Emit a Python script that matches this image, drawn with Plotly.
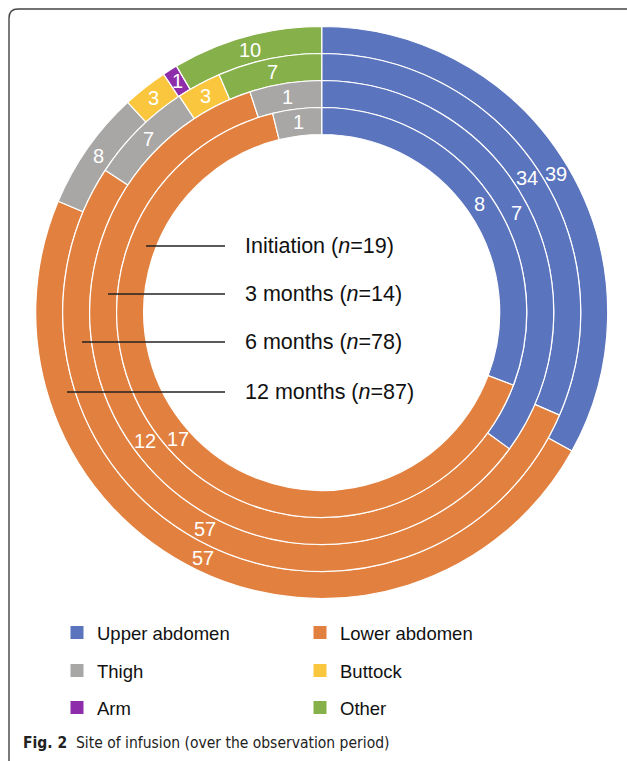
import math
import plotly.graph_objects as go

W, H = 627, 761

# ---- data ----
sites = ["Upper abdomen", "Lower abdomen", "Thigh", "Buttock", "Arm", "Other"]
site_colors = ["#5B74BE", "#E2813F", "#A8A7A6", "#FAC63E", "#8E2DAA", "#86B04A"]
periods = ["Initiation", "3 months", "6 months", "12 months"]
period_n = [19, 14, 78, 87]
initiation = [8, 17, 1, 0, 0, 0]
months_3 = [7, 12, 1, 0, 0, 0]
months_6 = [34, 57, 7, 3, 0, 7]
months_12 = [39, 57, 8, 3, 1, 10]
ring_values = [initiation, months_3, months_6, months_12]

# ---- geometry (pixels) ----
cx, cy = 321.7, 312.5
ring_outer = [205, 232, 259, 286]
ring_w = 27


def px(x):
    return x / W


def py(y):
    return 1 - y / H


fig = go.Figure()
annotations = []

# outer ring first
for i in reversed(range(4)):
    vals = ring_values[i]
    labs = [s for s, v in zip(sites, vals) if v > 0]
    cols = [c for c, v in zip(site_colors, vals) if v > 0]
    vv = [v for v in vals if v > 0]
    R = ring_outer[i]
    fig.add_trace(go.Pie(
        labels=labs, values=vv, sort=False, direction="clockwise", rotation=0,
        hole=(R - ring_w) / R,
        domain=dict(x=[px(cx - R), px(cx + R)], y=[py(cy + R), py(cy - R)]),
        marker=dict(colors=cols, line=dict(color="white", width=1.2)),
        textinfo="none",
        showlegend=False, hoverinfo="label+value", name=periods[i],
    ))
    # value labels at the middle of each slice
    total = sum(vv)
    rm = R - ring_w / 2
    cum = 0
    for v in vv:
        th = 2 * math.pi * (cum + v / 2) / total
        cum += v
        annotations.append(dict(
            xref="paper", yref="paper",
            x=px(cx + rm * math.sin(th)), y=py(cy - rm * math.cos(th)),
            xanchor="center", yanchor="middle", showarrow=False, text=str(v),
            font=dict(size=20, color="white", family="Liberation Sans, Arial, sans-serif")))

# legend entries (three rows of two)
legend_rows = ["legend", "legend2", "legend3"]
for k, (s, c) in enumerate(zip(sites, site_colors)):
    fig.add_trace(go.Scatter(
        x=[None], y=[None], mode="markers", name=s,
        marker=dict(symbol="square", size=13, color=c),
        legend=legend_rows[k // 2], showlegend=True,
    ))

row_y = [633, 671, 708]
leg_common = dict(orientation="h", x=px(57), xanchor="left", yanchor="middle",
                  entrywidth=198, entrywidthmode="pixels",
                  font=dict(size=18.5, color="#111", family="Liberation Sans, Arial, sans-serif"),
                  bgcolor="rgba(0,0,0,0)", borderwidth=0)

# leader lines and period labels
line_left = [146, 108, 82, 67]
line_y = [246, 294, 342, 392]
shapes = []
for i in range(4):
    shapes.append(dict(type="line", xref="paper", yref="paper",
                       x0=px(line_left[i]), x1=px(225), y0=py(line_y[i]), y1=py(line_y[i]),
                       line=dict(color="#222", width=1.3)))
    annotations.append(dict(xref="paper", yref="paper", x=px(243), y=py(line_y[i]),
                            xanchor="left", yanchor="middle", showarrow=False,
                            text=f"{periods[i]} (<i>n</i>={period_n[i]})",
                            font=dict(size=21.5, color="#111", family="Liberation Sans, Arial, sans-serif")))

# caption
annotations.append(dict(xref="paper", yref="paper", x=px(21), y=py(743),
                        xanchor="left", yanchor="middle", showarrow=False,
                        text="<b>Fig. 2</b>  Site of infusion (over the observation period)",
                        font=dict(size=15.5, color="#222",
                                  family="Liberation Sans Narrow, DejaVu Sans Condensed, Open Sans, sans-serif")))

# frame
r = 9
frame_path = (f"M {px(9)},{py(775)} L {px(9)},{py(9 + r)} "
              f"Q {px(9)},{py(9)} {px(9 + r)},{py(9)} L {px(640)},{py(9)}")
shapes.append(dict(type="path", xref="paper", yref="paper", path=frame_path,
                   line=dict(color="#444", width=1.4)))

fig.update_layout(
    width=W, height=H, margin=dict(l=0, r=0, t=0, b=0),
    paper_bgcolor="white", plot_bgcolor="white",
    xaxis=dict(visible=False), yaxis=dict(visible=False),
    legend=dict(y=py(row_y[0]), **leg_common),
    legend2=dict(y=py(row_y[1]), **leg_common),
    legend3=dict(y=py(row_y[2]), **leg_common),
    shapes=shapes, annotations=annotations,
)

fig.write_html("out.html", config={"displayModeBar": False},
               post_script="document.body.style.margin='0';")
